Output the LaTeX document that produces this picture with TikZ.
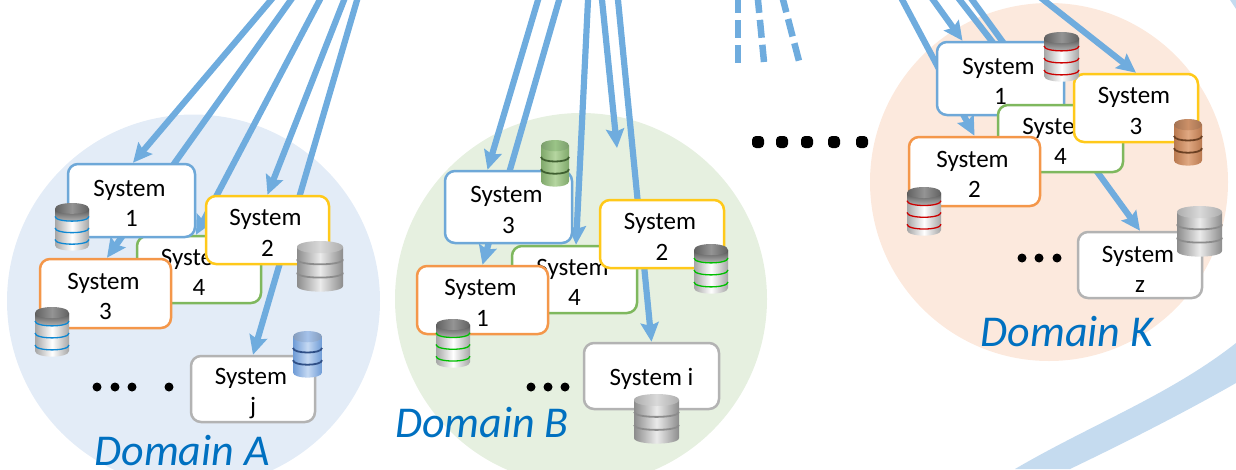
\documentclass[tikz,border=0pt]{standalone}
\usepackage{fontspec}
\setmainfont{Carlito}
\usetikzlibrary{arrows.meta}
\pgfdeclarelayer{bg}\pgfdeclarelayer{conn}\pgfsetlayers{bg,conn,main}
\definecolor{domA}{HTML}{E3ECF7}
\definecolor{domB}{HTML}{E6F0E0}
\definecolor{domK}{HTML}{FCE9DD}
\definecolor{arrowblue}{HTML}{6FACDE}
\definecolor{bandblue}{HTML}{C5DBEF}
\definecolor{bxblue}{HTML}{6EA8D8}
\definecolor{bxgreen}{HTML}{7FB85E}
\definecolor{bxyellow}{HTML}{FFC91A}
\definecolor{bxorange}{HTML}{F4974A}
\definecolor{bxgray}{HTML}{B3B3B3}
\definecolor{domtext}{HTML}{0070C0}
\tikzset{
 sbox/.style={draw=#1,fill=white,rounded corners=10pt,line width=2.5pt,align=center,inner sep=0pt,
   font=\fontsize{25}{30.5}\selectfont},
 arr/.style={draw=arrowblue,line width=6.2pt,-{Stealth[length=19pt,width=18pt,inset=3pt]}},
 dashline/.style={draw=arrowblue,line width=6.5pt,dash pattern=on 18pt off 7pt,dash phase=20pt},
 dotn/.style={circle,fill=black,inner sep=0pt,minimum size=9pt},
 bigdot/.style={rounded corners=4pt,rectangle,fill=black,inner sep=0pt,minimum size=12pt},
 domlabel/.style={anchor=base,text=domtext,font=\fontsize{44}{48}\selectfont\itshape},
}
\newcommand\tl[2][-3pt]{\raisebox{#1}[\height][\depth]{#2}}
\newcommand\stl[1][-3pt]{\raisebox{#1}[\height][\depth]{System\hspace{4pt}}}
% x1 y1 x2 y2 side mid top ring
\newcommand\dbsolid[8]{\pgfmathsetmacro\dbw{#3-#1}\pgfmathsetmacro\dbh{#2-#4}%
 \colorlet{dbtopc}{#7}%
 \begin{scope}[shift={(#1,#2)},x=\dbw pt,y=\dbh pt]
 \shade[left color=#5,right color=#5,middle color=#6]
   (0,.12)--(0,.88) .. controls (0,1.03) and (1,1.03) .. (1,.88)--(1,.12)--cycle;
 \foreach \a in {.36,.62}{\draw[#8,line width=1.8pt] (0,\a) .. controls (0,\a+.13) and (1,\a+.13) .. (1,\a);}
 \shade[left color=dbtopc!80!black,right color=dbtopc!80!black,middle color=dbtopc]
   (0,.12) .. controls (0,-.04) and (1,-.04) .. (1,.12) .. controls (1,.28) and (0,.28) .. (0,.12)--cycle;
 \end{scope}}
% x1 y1 x2 y2 stripe
\newcommand\dbchrome[5]{\pgfmathsetmacro\dbw{#3-#1}\pgfmathsetmacro\dbh{#2-#4}%
 \begin{scope}[shift={(#1,#2)},x=\dbw pt,y=\dbh pt]
 \shade[left color=black!35,right color=black!35,middle color=white]
   (0,.12)--(0,.88) .. controls (0,1.03) and (1,1.03) .. (1,.88)--(1,.12)--cycle;
 \shade[top color=black!68,bottom color=black!25]
   (0,.12)--(0,.28) .. controls (0,.41) and (1,.41) .. (1,.28)--(1,.12)--cycle;
 \foreach \a in {.28,.52,.76}{\draw[#5,line width=1.3pt] (0,\a) .. controls (0,\a+.13) and (1,\a+.13) .. (1,\a);}
 \shade[left color=black!62,right color=black!62,middle color=black!42]
   (0,.12) .. controls (0,-.04) and (1,-.04) .. (1,.12) .. controls (1,.26) and (0,.26) .. (0,.12)--cycle;
 \end{scope}}
\begin{document}
\begin{tikzpicture}[x=1pt,y=-1pt]
\useasboundingbox (0,0) rectangle (1236,469);
\begin{pgfonlayer}{bg}
 \fill[domA] (193.5,301) circle [radius=186.5];
 \fill[domB] (581,299) circle [radius=186];
 \fill[domK] (1049,182) circle [radius=179];
 \fill[bandblue] (1015,469) .. controls (1090,425) and (1170,395) .. (1236,343)
   -- (1236,383) .. controls (1180,415) and (1120,445) .. (1070,469) -- cycle;
 \fill[bandblue] (1230,0) -- (1236,0) -- (1236,9) -- cycle;
\end{pgfonlayer}
% Domain A
\node[sbox=bxgreen,minimum width=124,minimum height=67] (A4) at (199,269.5) {\stl\\\tl{4}};
\node[sbox=bxblue,minimum width=127,minimum height=73] (A1) at (131.5,200.5) {\stl\\\tl{1}};
\node[sbox=bxyellow,minimum width=123,minimum height=68] (A2) at (267.5,230) {\stl\\\tl{2}};
\node[sbox=bxorange,minimum width=131,minimum height=69] (A3) at (105.5,293.5) {\stl\\\tl{3}};
\node[sbox=bxgray,minimum width=124,minimum height=66] (Aj) at (253,389) {\stl[-4.5pt]\\\tl[-4.5pt]{j}};
\dbchrome{55}{203}{89}{251}{cyan!70!blue}
\dbchrome{35}{307}{69}{357}{cyan!70!blue}
\dbsolid{297}{241}{343}{292}{black!45}{black!8}{black!15}{black!45}
\definecolor{dbbs}{HTML}{6E9BD6}\definecolor{dbbm}{HTML}{C5D9F3}\definecolor{dbbt}{HTML}{A5C2EA}\definecolor{dbbr}{HTML}{2F4F86}
\dbsolid{293}{331}{322}{378}{dbbs}{dbbm}{dbbt}{dbbr}
\foreach \x in {97,115,132,169}{\node[dotn] (dA\x) at (\x,387) {};}
\node[domlabel] (labA) at (182,465) {Domain A};
% Domain B
\node[sbox=bxgreen,minimum width=125,minimum height=67] (B4) at (574.5,279.5) {\stl\\\tl{4}};
\node[sbox=bxblue,minimum width=127,minimum height=72] (B3) at (508.5,207) {\stl\\\tl{3}};
\node[sbox=bxyellow,minimum width=124,minimum height=68] (B2) at (662,234) {\stl\\\tl{2}};
\node[sbox=bxorange,minimum width=131,minimum height=68] (B1) at (482.5,300) {\stl\\\tl{1}};
\node[sbox=bxgray,minimum width=135,minimum height=66] (Bi) at (651.5,376) {\tl{System i}};
\definecolor{dbgs}{HTML}{7FA86A}\definecolor{dbgm}{HTML}{B5D5A0}\definecolor{dbgt}{HTML}{9AC487}\definecolor{dbgr}{HTML}{3F5F30}
\dbsolid{541}{140}{569}{187}{dbgs}{dbgm}{dbgt}{dbgr}
\dbchrome{436}{319}{470}{368}{green!75!black}
\dbchrome{694}{244}{728}{294}{green!75!black}
\dbsolid{634}{394}{679}{444}{black!45}{black!8}{black!15}{black!45}
\foreach \x in {531,548,565}{\node[dotn] (dB\x) at (\x,387) {};}
\node[domlabel] (labB) at (482,437) {Domain B};
% Domain K
\node[sbox=bxblue,minimum width=127,minimum height=73] (K1) at (1000.5,78.5) {\stl\\\tl{1}};
\node[sbox=bxgreen,minimum width=125,minimum height=67] (K4) at (1060.5,138.5) {\stl\\\tl{4}};
\node[sbox=bxyellow,minimum width=124,minimum height=68] (K3) at (1136,108) {\stl\\\tl{3}};
\node[sbox=bxorange,minimum width=131,minimum height=69] (K2) at (974.5,171.5) {\stl\\\tl{2}};
\node[sbox=bxgray,minimum width=124,minimum height=66] (Kz) at (1140,265) {\stl[-4.5pt]\\\tl[-4.5pt]{z}};
\dbchrome{1044}{32}{1079}{82}{red!80!black}
\dbchrome{907}{187}{941}{236}{red!80!black}
\definecolor{dbcs}{HTML}{B9794F}\definecolor{dbcm}{HTML}{E0A882}\definecolor{dbct}{HTML}{CC9068}\definecolor{dbcr}{HTML}{6B4023}
\dbsolid{1174}{119}{1202}{166}{dbcs}{dbcm}{dbct}{dbcr}
\dbsolid{1177}{206}{1222}{257}{black!45}{black!8}{black!15}{black!45}
\foreach \x in {1022,1039,1057}{\node[dotn] (dK\x) at (\x,258) {};}
\foreach \x in {758,782,807,834,862}{\node[bigdot] (dM\x) at (\x,142) {};}
\node[domlabel] (labK) at (1067,346) {Domain K};
% free ends
\coordinate (sa1) at (279.5,-10); \coordinate (sa2) at (298,-10); \coordinate (sa3) at (325,-10);
\coordinate (sa4) at (348,-10); \coordinate (sa5) at (360,-10);
\coordinate (sb1) at (541,-10); \coordinate (sb2) at (562,-10); \coordinate (sb3) at (588.5,-10);
\coordinate (sb4) at (601,-10); \coordinate (sb5) at (617,-10);
\coordinate (ebfree) at (617,148);
\coordinate (sk1) at (897,-10); \coordinate (sk2) at (926,-10); \coordinate (sk3) at (952,-10);
\coordinate (sk4) at (965,-10); \coordinate (sk5) at (1031,-10);
\coordinate (d1s) at (738,-10); \coordinate (d1e) at (738,63);
\coordinate (d2s) at (757,-10); \coordinate (d2e) at (764,62);
\coordinate (d3s) at (780.5,-10); \coordinate (d3e) at (799,61);
\begin{pgfonlayer}{conn}
 \draw[arr] (sa1) -- ([xshift=1.5pt]A1.north);
 \draw[arr] (sa2) -- ([xshift=1.5pt]A3.north);
 \draw[arr] (sa3) -- ([xshift=-3pt]A4.north);
 \draw[arr] (sa4) -- (A2.north);
 \draw[arr] (sa5) -- (Aj.north);
 \draw[arr] (sb1) -- ([xshift=-21pt]B3.north);
 \draw[arr] (sb2) -- (B1.north);
 \draw[arr] (sb3) -- ([xshift=1.5pt]B4.north);
 \draw[arr] (sb4) -- (ebfree);
 \draw[arr] (sb5) -- (Bi.north);
 \draw[arr] (sk1) -- (K2.north);
 \draw[arr] (sk2) -- ([xshift=-38pt]K1.north);
 \draw[arr] (sk3) -- ([xshift=-20pt]K4.north);
 \draw[arr] (sk4) -- (Kz.north);
 \draw[arr] (sk5) -- (K3.north);
 \draw[dashline] (d1s) -- (d1e);
 \draw[dashline] (d2s) -- (d2e);
 \draw[dashline] (d3s) -- (d3e);
\end{pgfonlayer}
\end{tikzpicture}
\end{document}
